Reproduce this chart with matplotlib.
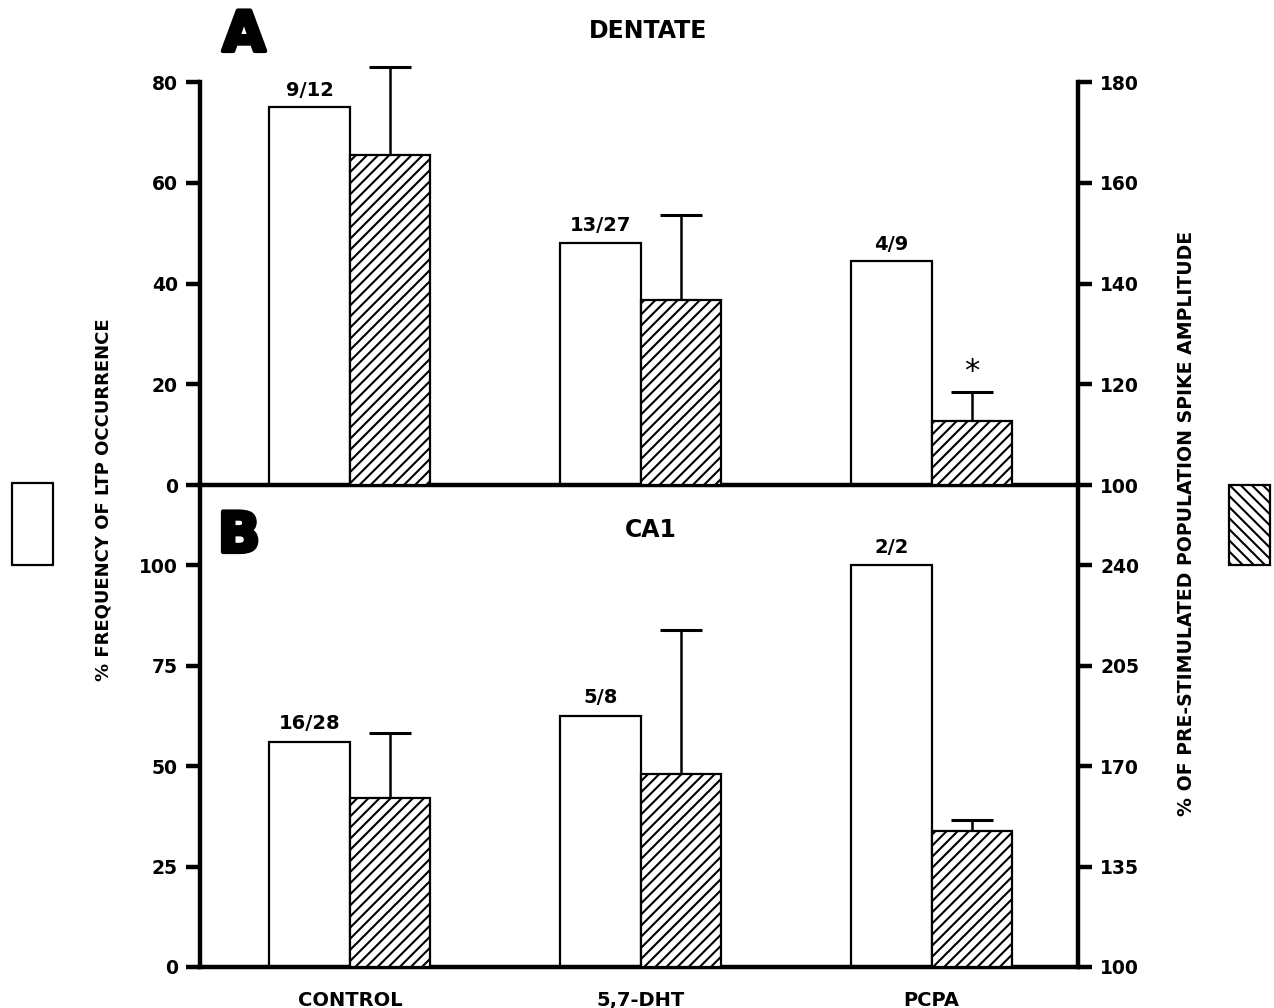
import matplotlib
matplotlib.use("Agg")
import matplotlib.pyplot as plt
import matplotlib.patches as mpatches
import matplotlib.patheffects as pe
import numpy as np

plt.rcParams['font.family'] = ['DejaVu Sans']
plt.rcParams['font.weight'] = 'bold'
plt.rcParams['hatch.linewidth'] = 1.5

categories = ["CONTROL", "5,7-DHT", "PCPA"]

# Panel A (Dentate)
dentate_freq = [75.0, 48.1, 44.4]            # % frequency of LTP occurrence
dentate_counts = ["9/12", "13/27", "4/9"]
dentate_amp = [165.5, 136.7, 112.7]          # % of pre-stimulated pop. spike amplitude
dentate_amp_err = [17.5, 16.9, 5.8]

# Panel B (CA1)
ca1_freq = [56.0, 62.5, 100.0]
ca1_counts = ["16/28", "5/8", "2/2"]
ca1_amp = [158.9, 167.2, 147.4]
ca1_amp_err = [22.6, 50.2, 3.8]

left_ticks_A = [0, 20, 40, 60, 80]
right_ticks_A = [100, 120, 140, 160, 180]
left_ticks_B = [0, 25, 50, 75, 100]
right_ticks_B = [100, 135, 170, 205, 240]

W, H = 1274, 1008
fig = plt.figure(figsize=(W / 100, H / 100), dpi=100)

x = np.arange(len(categories))
bw = 0.277

def panel(rect, freq, counts, amp, err, lticks, rticks, lylim, rylim, star=None):
    ax = fig.add_axes(rect)
    axr = ax.twinx()
    ax.set_xlim(-0.515, 2.503)
    ax.set_ylim(*lylim)
    axr.set_ylim(*rylim)
    ax.bar(x - bw / 2, freq, width=bw, facecolor='white', edgecolor='black', linewidth=1.6, zorder=2)
    axr.bar(x + bw / 2, np.array(amp) - rylim[0], width=bw, bottom=rylim[0],
            facecolor='white', edgecolor='black', hatch='///', linewidth=1.6, zorder=2)
    eb = axr.errorbar(x + bw / 2, amp, yerr=[np.zeros(len(err)), err], fmt='none',
                      ecolor='black', elinewidth=1.8, capsize=15, capthick=2.2, zorder=1)
    for child in eb.get_children():
        child.set_clip_on(False)
    for xi, f, c in zip(x, freq, counts):
        ax.text(xi - bw / 2, f + (lylim[1] - lylim[0]) * 0.018, c, ha='center', va='bottom',
                fontsize=14, fontweight='bold')
    if star is not None:
        i = star
        axr.text(x[i] + bw / 2, amp[i] + err[i] + (rylim[1] - rylim[0]) * 0.015, '*',
                 ha='center', va='bottom', fontsize=22, fontweight='normal')
    ax.set_yticks(lticks)
    axr.set_yticks(rticks)
    ax.set_xticks([])
    for a in (ax, axr):
        a.spines['top'].set_visible(False)
        for s in a.spines.values():
            s.set_linewidth(3.2)
        a.tick_params(axis='y', direction='out', length=10, width=3.2, labelsize=13.5, pad=6)
        for lab in a.get_yticklabels():
            lab.set_fontweight('bold')
    ax.spines['right'].set_visible(False)
    axr.spines['left'].set_visible(False)
    axr.spines['bottom'].set_visible(False)
    ax.patch.set_visible(False)
    return ax, axr

# Panel A
axA, axAr = panel([200 / W, 1 - 485 / H, 878 / W, 403 / H], dentate_freq, dentate_counts,
                  dentate_amp, dentate_amp_err, left_ticks_A, right_ticks_A,
                  (0, 80), (100, 180), star=2)
# Panel B
axB, axBr = panel([200 / W, 1 - 967 / H, 878 / W, 482 / H], ca1_freq, ca1_counts,
                  ca1_amp, ca1_amp_err, left_ticks_B, right_ticks_B,
                  (0, 120), (100, 268))

axB.set_xticks(x)
axB.set_xticklabels(categories, fontsize=14, fontweight='bold')
axB.tick_params(axis='x', length=0, pad=17)

# Titles and panel letters
fig.text(648 / W, 1 - 31 / H, "DENTATE", ha='center', va='center', fontsize=17, fontweight='bold')
fig.text(651 / W, 1 - 530 / H, "CA1", ha='center', va='center', fontsize=17, fontweight='bold')
for lx, ly, L in [(244, 36, "A"), (239, 537, "B")]:
    t = fig.text(lx / W, 1 - ly / H, L, ha='center', va='center', fontsize=40, fontweight='bold')
    t.set_path_effects([pe.withStroke(linewidth=3, foreground='black')])

# Axis labels
fig.text(104 / W, 1 - 500 / H, "% FREQUENCY OF LTP OCCURRENCE", rotation=90,
         ha='center', va='center', fontsize=13, fontweight='bold')
fig.text(1187 / W, 1 - 523 / H, "% OF PRE-STIMULATED POPULATION SPIKE AMPLITUDE", rotation=90,
         ha='center', va='center', fontsize=13.6, fontweight='bold')

# Legend keys
fig.patches.append(mpatches.Rectangle((12 / W, 1 - 565 / H), 41 / W, 82 / H, transform=fig.transFigure,
                                      facecolor='white', edgecolor='black', linewidth=1.6))
fig.patches.append(mpatches.Rectangle((1229 / W, 1 - 565 / H), 41 / W, 80 / H, transform=fig.transFigure,
                                      facecolor='white', edgecolor='black', linewidth=1.6, hatch='\\\\\\'))

fig.savefig("out.png", dpi=100)
